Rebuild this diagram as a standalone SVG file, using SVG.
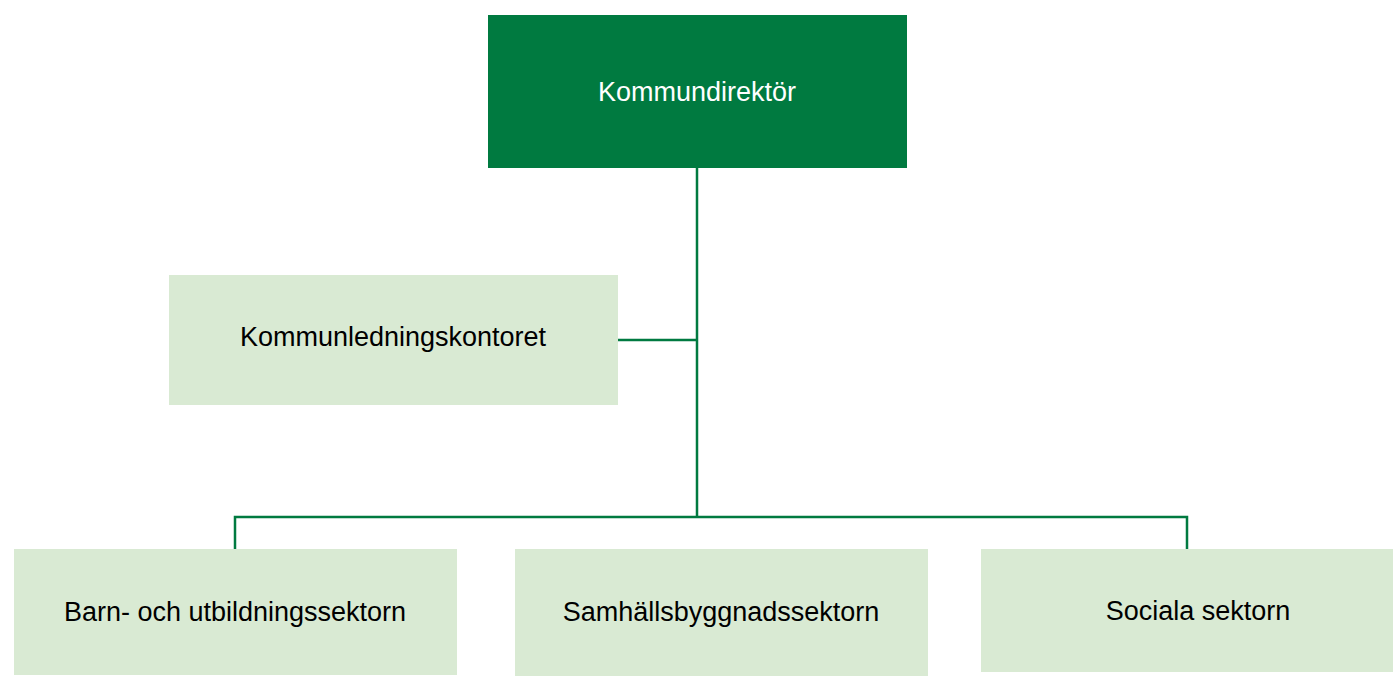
<svg xmlns="http://www.w3.org/2000/svg" width="1400" height="684" viewBox="0 0 1400 684">
<style>
.l{fill:#D9EAD3}
.t{font-family:"Liberation Sans",Arial,sans-serif;font-size:27px;text-anchor:middle;fill:#000}
.c{stroke:#007A40;stroke-width:2.5;fill:none}
</style>
<rect width="1400" height="684" fill="#fff"/>
<g id="connectors">
<path class="c" d="M697 168V517M618 340H697M235 549V517H1187V549"/>
</g>
<g id="kommundirektor"><rect x="488" y="15" width="419" height="153" fill="#007A40"/><text class="t" x="697" y="101" fill="#fff" style="fill:#fff">Kommundirektör</text></g>
<g id="kommunledningskontoret"><rect class="l" x="169" y="275" width="449" height="130"/><text class="t" x="393" y="346">Kommunledningskontoret</text></g>
<g id="barn"><rect class="l" x="14" y="549" width="443" height="126"/><text class="t" x="235" y="621">Barn- och utbildningssektorn</text></g>
<g id="samhall"><rect class="l" x="515" y="549" width="413" height="127"/><text class="t" x="721" y="621">Samhällsbyggnadssektorn</text></g>
<g id="sociala"><rect class="l" x="981" y="549" width="412" height="123"/><text class="t" x="1198" y="620">Sociala sektorn</text></g>
</svg>
